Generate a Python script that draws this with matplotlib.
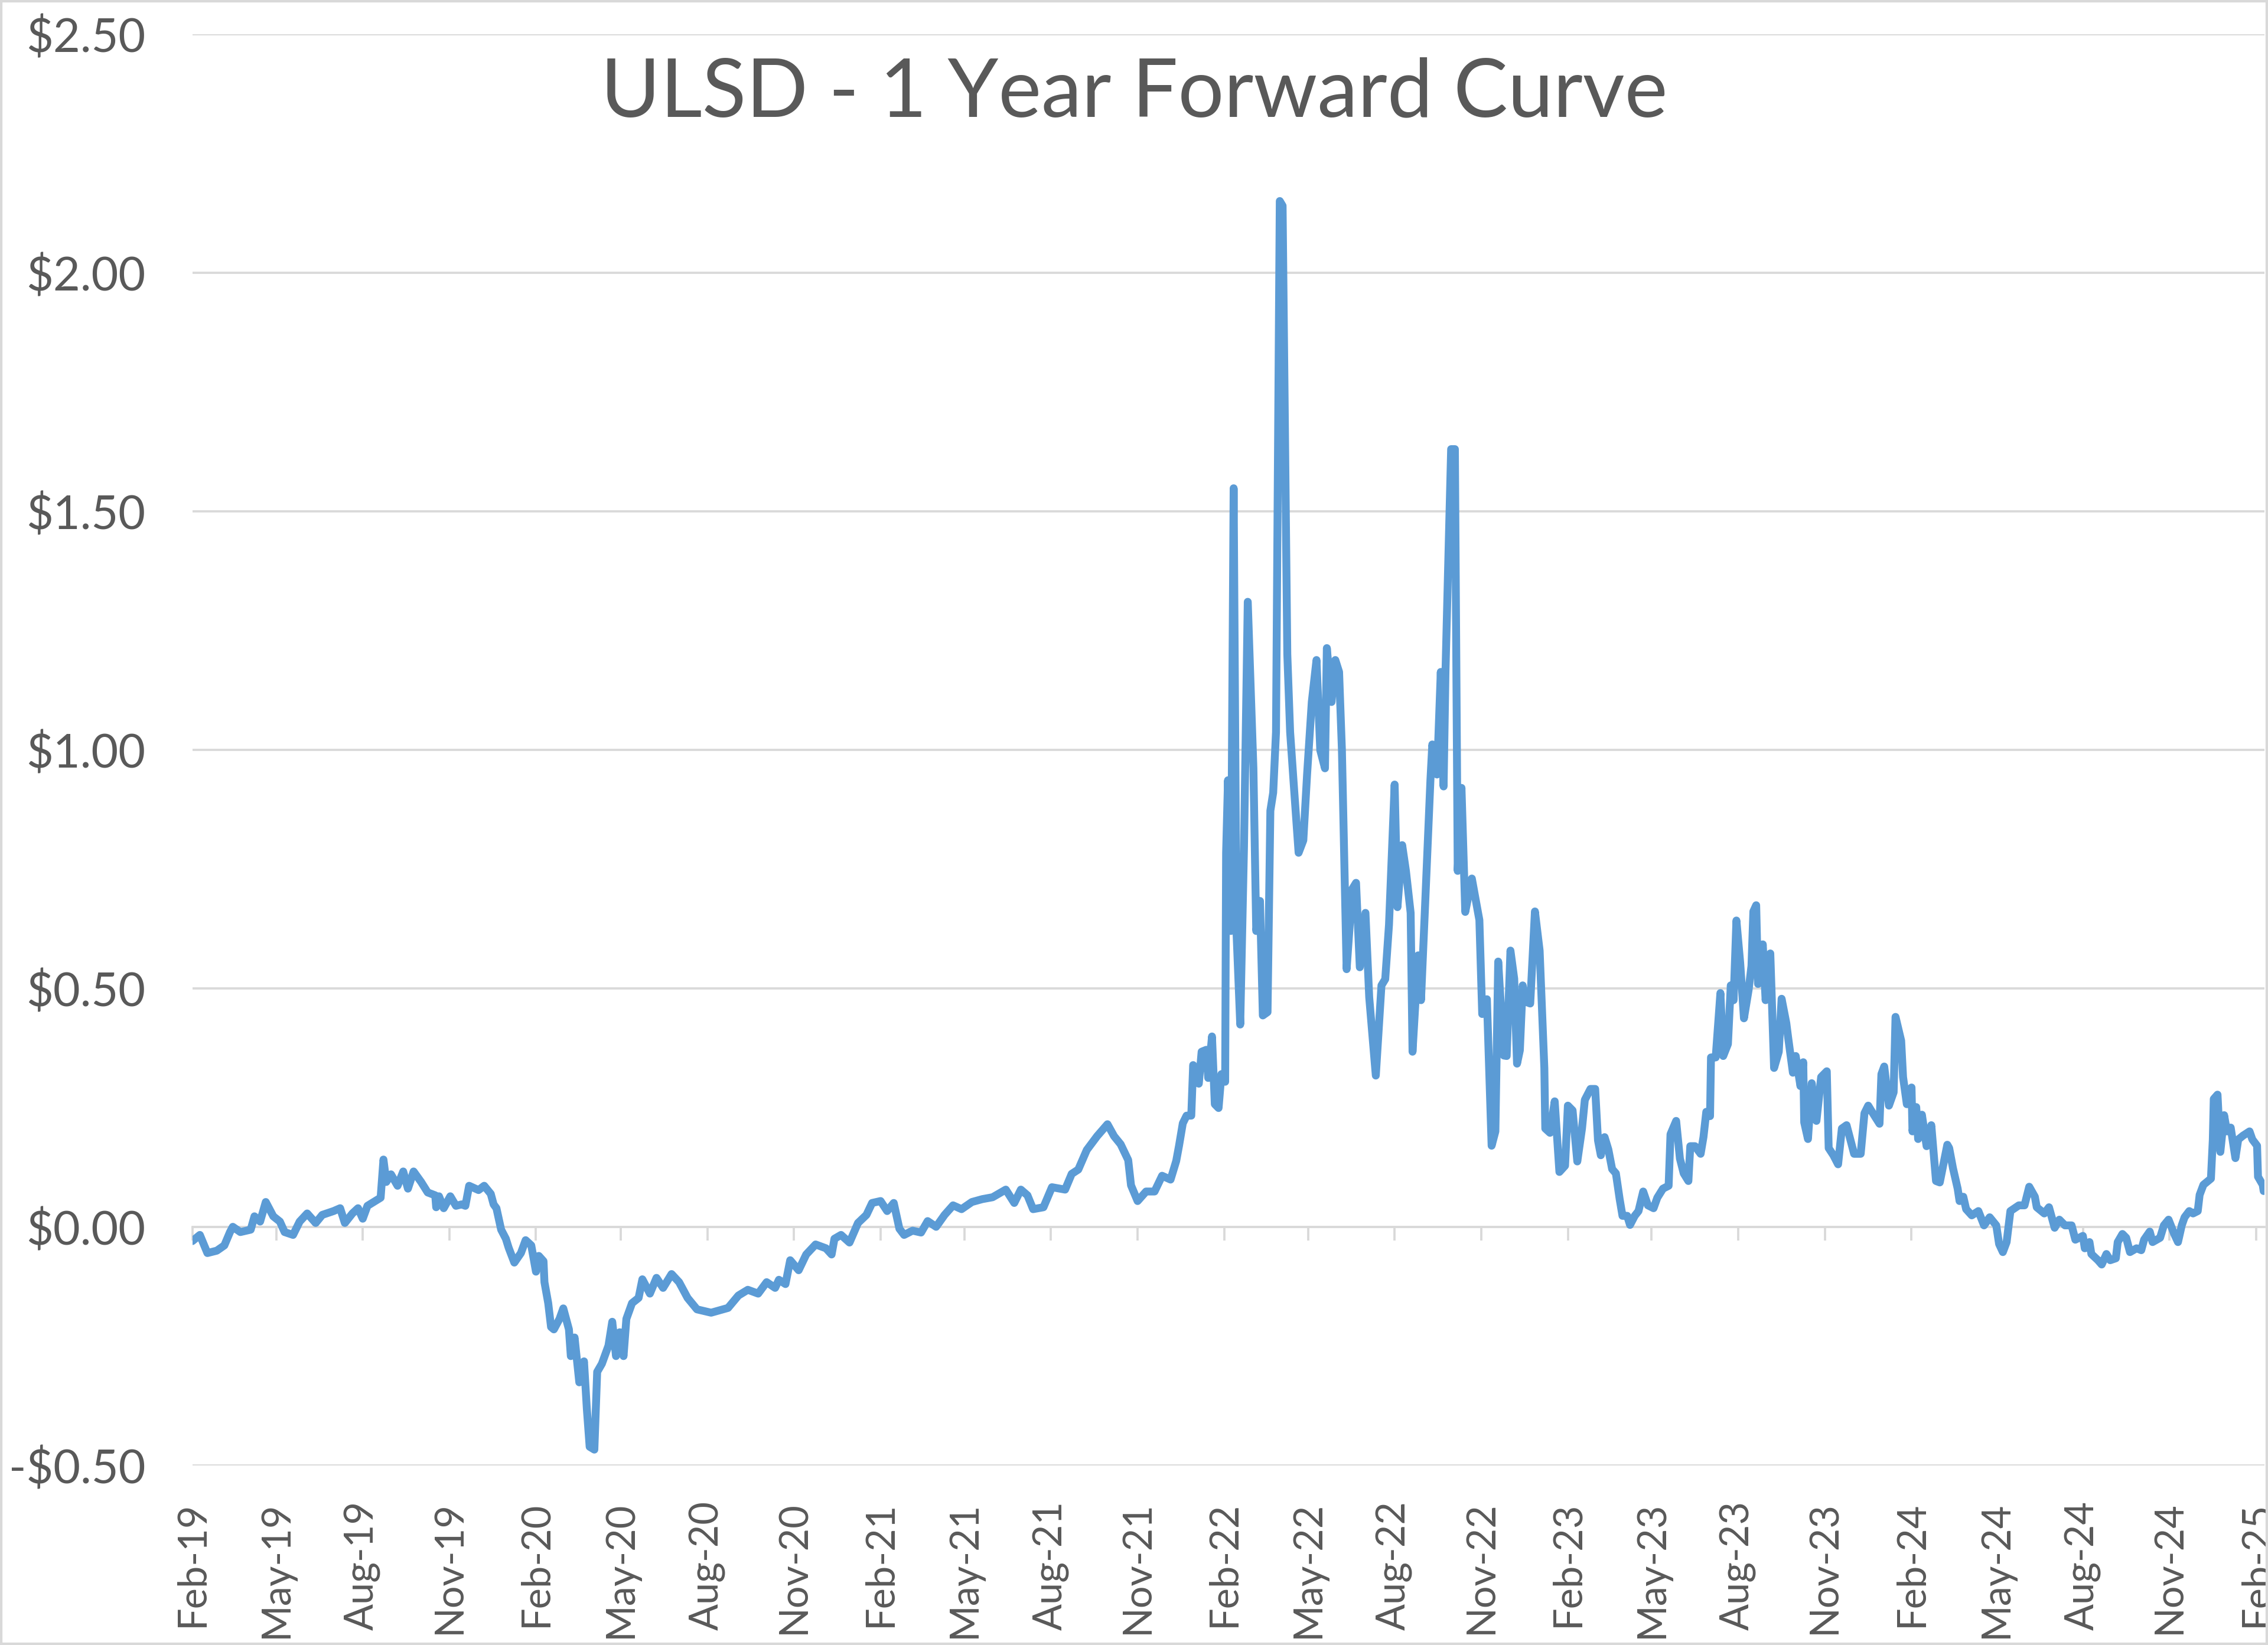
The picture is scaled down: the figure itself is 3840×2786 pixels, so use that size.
import matplotlib.pyplot as plt
import matplotlib.dates as mdates
from matplotlib.patches import Rectangle
from matplotlib.ticker import FuncFormatter
import pandas as pd

# values: days after 1 Feb 2019 and the spread in $/gal
start_date = "2019-02-01"
day_offsets = [
    0, 8, 16, 26, 34, 40, 43, 51, 62, 66, 72, 78, 86, 93, 98, 107, 114, 122, 131, 138,
    150, 157, 162, 170, 176, 181, 186, 195, 200, 203, 206, 211, 218, 224, 229, 235, 243, 250, 258, 259,
    262, 267, 274, 280, 286, 290, 294, 304, 310, 317, 320, 323, 328, 333, 336, 342, 349, 354, 360, 365,
    368, 373, 374, 378, 381, 384, 390, 394, 400, 402, 406, 411, 416, 419, 422, 427, 430, 435, 442, 446,
    450, 454, 458, 461, 467, 474, 478, 486, 493, 500, 509, 517, 526, 536, 551, 569, 580, 590, 601, 610,
    619, 623, 630, 635, 644, 652, 662, 673, 679, 682, 689, 698, 707, 716, 722, 731, 738, 745, 751, 756,
    765, 774, 781, 790, 799, 808, 817, 828, 839, 850, 857, 864, 873, 880, 887, 893, 904, 913, 927, 934,
    941, 950, 961, 972, 979, 986, 994, 997, 1004, 1013, 1022, 1030, 1039, 1045, 1048, 1052, 1056, 1061, 1063, 1069,
    1072, 1077, 1079, 1083, 1086, 1090, 1093, 1097, 1098, 1100, 1103, 1106, 1109, 1113, 1117, 1121, 1127, 1130, 1134, 1137,
    1142, 1145, 1148, 1151, 1155, 1158, 1163, 1166, 1170, 1175, 1180, 1184, 1189, 1194, 1198, 1203, 1205, 1210, 1214, 1218,
    1221, 1226, 1232, 1236, 1240, 1246, 1250, 1257, 1263, 1267, 1271, 1277, 1280, 1285, 1289, 1294, 1296, 1302, 1305, 1309,
    1315, 1317, 1322, 1326, 1329, 1331, 1337, 1341, 1344, 1348, 1352, 1359, 1367, 1370, 1375, 1380, 1384, 1387, 1393, 1396,
    1400, 1404, 1407, 1410, 1413, 1416, 1421, 1426, 1431, 1436, 1437, 1442, 1447, 1452, 1458, 1461, 1466, 1471, 1476, 1479,
    1485, 1490, 1493, 1496, 1500, 1504, 1508, 1512, 1516, 1519, 1524, 1527, 1532, 1536, 1541, 1546, 1552, 1556, 1562, 1568,
    1570, 1576, 1580, 1584, 1589, 1591, 1596, 1602, 1605, 1608, 1612, 1613, 1618, 1623, 1626, 1631, 1634, 1637, 1640, 1644,
    1648, 1653, 1656, 1658, 1661, 1663, 1668, 1671, 1676, 1680, 1685, 1688, 1693, 1695, 1700, 1703, 1708, 1711, 1712, 1716,
    1720, 1725, 1730, 1736, 1738, 1743, 1748, 1752, 1757, 1765, 1772, 1776, 1780, 1784, 1792, 1794, 1797, 1802, 1807, 1809,
    1815, 1817, 1821, 1826, 1827, 1831, 1833, 1837, 1842, 1847, 1852, 1856, 1864, 1866, 1870, 1875, 1877, 1881, 1884, 1890,
    1897, 1903, 1909, 1916, 1919, 1923, 1927, 1931, 1940, 1946, 1951, 1957, 1959, 1967, 1972, 1978, 1983, 1989, 1996, 2000,
    2008, 2010, 2015, 2017, 2024, 2028, 2033, 2037, 2043, 2045, 2050, 2054, 2058, 2065, 2070, 2073, 2079, 2082, 2090, 2094,
    2099, 2105, 2109, 2113, 2116, 2121, 2125, 2130, 2132, 2136, 2144, 2146, 2147, 2151, 2154, 2158, 2161, 2165, 2170, 2173,
    2178, 2185, 2188, 2193, 2194, 2199, 2200,
]
spread = [
    -0.03, -0.017, -0.055, -0.05, -0.039, -0.011, 0.0, -0.011, -0.006, 0.022, 0.011, 0.052, 0.022, 0.011, -0.011, -0.017, 0.011, 0.028, 0.008, 0.025,
    0.033, 0.039, 0.008, 0.028, 0.039, 0.017, 0.044, 0.055, 0.061, 0.141, 0.094, 0.11, 0.086, 0.116, 0.08, 0.116, 0.094, 0.072, 0.066, 0.041,
    0.064, 0.039, 0.064, 0.044, 0.047, 0.044, 0.086, 0.077, 0.086, 0.069, 0.047, 0.039, -0.006, -0.025, -0.044, -0.075, -0.055, -0.028, -0.039, -0.094,
    -0.061, -0.072, -0.116, -0.16, -0.21, -0.215, -0.193, -0.171, -0.215, -0.271, -0.232, -0.326, -0.282, -0.381, -0.461, -0.467, -0.304, -0.287, -0.249, -0.199,
    -0.271, -0.221, -0.271, -0.193, -0.16, -0.149, -0.11, -0.14, -0.107, -0.128, -0.099, -0.116, -0.149, -0.173, -0.18, -0.17, -0.144, -0.132, -0.14, -0.116,
    -0.128, -0.111, -0.12, -0.07, -0.091, -0.058, -0.037, -0.045, -0.058, -0.025, -0.017, -0.033, 0.008, 0.025, 0.05, 0.054, 0.033, 0.05, -0.004, -0.017,
    -0.008, -0.012, 0.012, 0.0, 0.025, 0.045, 0.037, 0.052, 0.058, 0.062, 0.07, 0.078, 0.05, 0.078, 0.066, 0.037, 0.041, 0.083, 0.078, 0.111,
    0.12, 0.161, 0.19, 0.215, 0.19, 0.173, 0.14, 0.087, 0.054, 0.074, 0.074, 0.107, 0.099, 0.138, 0.17, 0.217, 0.233, 0.233, 0.339, 0.30,
    0.367, 0.371, 0.312, 0.399, 0.257, 0.249, 0.32, 0.304, 0.784, 0.936, 0.62, 1.548, 0.62, 0.424, 0.797, 1.31, 0.961, 0.62, 0.683, 0.443,
    0.45, 0.872, 0.91, 1.037, 2.15, 2.14, 1.20, 1.037, 0.923, 0.784, 0.81, 0.948, 1.10, 1.188, 0.999, 0.961, 1.213, 1.10, 1.188, 1.163,
    0.999, 0.54, 0.708, 0.721, 0.544, 0.658, 0.481, 0.317, 0.506, 0.519, 0.633, 0.927, 0.67, 0.80, 0.746, 0.658, 0.367, 0.569, 0.475, 0.658,
    0.936, 1.011, 0.948, 1.163, 0.923, 1.163, 1.63, 1.63, 0.746, 0.92, 0.66, 0.73, 0.643, 0.446, 0.477, 0.17, 0.20, 0.556, 0.359, 0.358,
    0.579, 0.52, 0.342, 0.37, 0.506, 0.472, 0.468, 0.661, 0.579, 0.333, 0.206, 0.197, 0.263, 0.115, 0.128, 0.254, 0.244, 0.137, 0.206, 0.266,
    0.289, 0.289, 0.181, 0.15, 0.188, 0.162, 0.121, 0.112, 0.058, 0.023, 0.023, 0.004, 0.023, 0.033, 0.074, 0.045, 0.039, 0.061, 0.08, 0.086,
    0.194, 0.222, 0.143, 0.112, 0.096, 0.169, 0.169, 0.153, 0.188, 0.241, 0.232, 0.355, 0.355, 0.49, 0.358, 0.383, 0.506, 0.475, 0.642, 0.554,
    0.437, 0.497, 0.547, 0.661, 0.674, 0.509, 0.592, 0.475, 0.573, 0.333, 0.367, 0.478, 0.427, 0.396, 0.323, 0.358, 0.295, 0.345, 0.219, 0.184,
    0.301, 0.222, 0.314, 0.326, 0.165, 0.15, 0.131, 0.206, 0.213, 0.153, 0.153, 0.238, 0.254, 0.241, 0.216, 0.32, 0.336, 0.254, 0.282, 0.44,
    0.39, 0.314, 0.257, 0.292, 0.2, 0.251, 0.184, 0.235, 0.169, 0.213, 0.096, 0.093, 0.172, 0.165, 0.123, 0.08, 0.054, 0.063, 0.037, 0.024,
    0.033, 0.003, 0.02, 0.003, -0.036, -0.053, -0.032, 0.033, 0.045, 0.045, 0.084, 0.063, 0.041, 0.028, 0.041, -0.002, 0.015, 0.003, 0.003, -0.027,
    -0.019, -0.045, -0.032, -0.057, -0.07, -0.079, -0.057, -0.07, -0.066, -0.032, -0.015, -0.023, -0.053, -0.045, -0.049, -0.027, -0.01, -0.032, -0.023, 0.003,
    0.015, -0.015, -0.032, 0.003, 0.02, 0.033, 0.028, 0.033, 0.067, 0.088, 0.101, 0.183, 0.268, 0.277, 0.157, 0.234, 0.20, 0.208, 0.144, 0.183,
    0.191, 0.20, 0.183, 0.17, 0.105, 0.088, 0.075,
]

title = "ULSD - 1 Year Forward Curve"
y_ticks = [-0.5, 0.0, 0.5, 1.0, 1.5, 2.0, 2.5]
x_tick_start = "2019-02-01"
x_tick_end = "2025-02-01"
x_end = "2025-02-10"

line_color = "#5B9BD5"
grid_color = "#D9D9D9"
text_color = "#595959"

plt.rcParams["font.family"] = ["Lato", "DejaVu Sans"]

dates = pd.Timestamp(start_date) + pd.to_timedelta(day_offsets, unit="D")
tick_dates = pd.date_range(x_tick_start, x_tick_end, freq="3MS")

fig = plt.figure(figsize=(12.8, 2786 / 300))
ax = fig.add_axes([0.0848, 0.1092, 0.9137, 0.8701])

ax.plot(dates, spread, color=line_color, lw=3.2,
        solid_joinstyle="round", solid_capstyle="round", zorder=3)

ax.set_xlim(pd.Timestamp(start_date), pd.Timestamp(x_end))
ax.set_ylim(-0.5, 2.5)
ax.set_yticks(y_ticks)
ax.yaxis.set_major_formatter(FuncFormatter(
    lambda v, _: ("-$%.2f" % abs(v)) if v < 0 else ("$%.2f" % v)))
ax.yaxis.grid(True, color=grid_color, lw=0.9)
ax.set_axisbelow(True)

for side in ["top", "right", "left"]:
    ax.spines[side].set_visible(False)
# horizontal axis crosses at zero, labels sit at the bottom
ax.spines["bottom"].set_position(("data", 0))
ax.spines["bottom"].set_color(grid_color)
ax.spines["bottom"].set_linewidth(0.9)

ax.set_xticks(tick_dates)
ax.xaxis.set_major_formatter(mdates.DateFormatter("%b-%y"))
ax.tick_params(axis="x", direction="out", length=5.5, width=0.9, color=grid_color,
               pad=106, labelsize=16, labelcolor=text_color, labelrotation=90)
ax.tick_params(axis="y", length=0, pad=19, labelsize=19, labelcolor=text_color)
for lbl in ax.get_xticklabels():
    lbl.set_va("top")

fig.text(0.5, 0.9293, title, ha="center", va="baseline", fontsize=33, color=text_color)
fig.patches.append(Rectangle((0, 0), 1, 1, transform=fig.transFigure, fill=False,
                             ec=grid_color, lw=2.0))

fig.savefig("out.png", dpi=300)
